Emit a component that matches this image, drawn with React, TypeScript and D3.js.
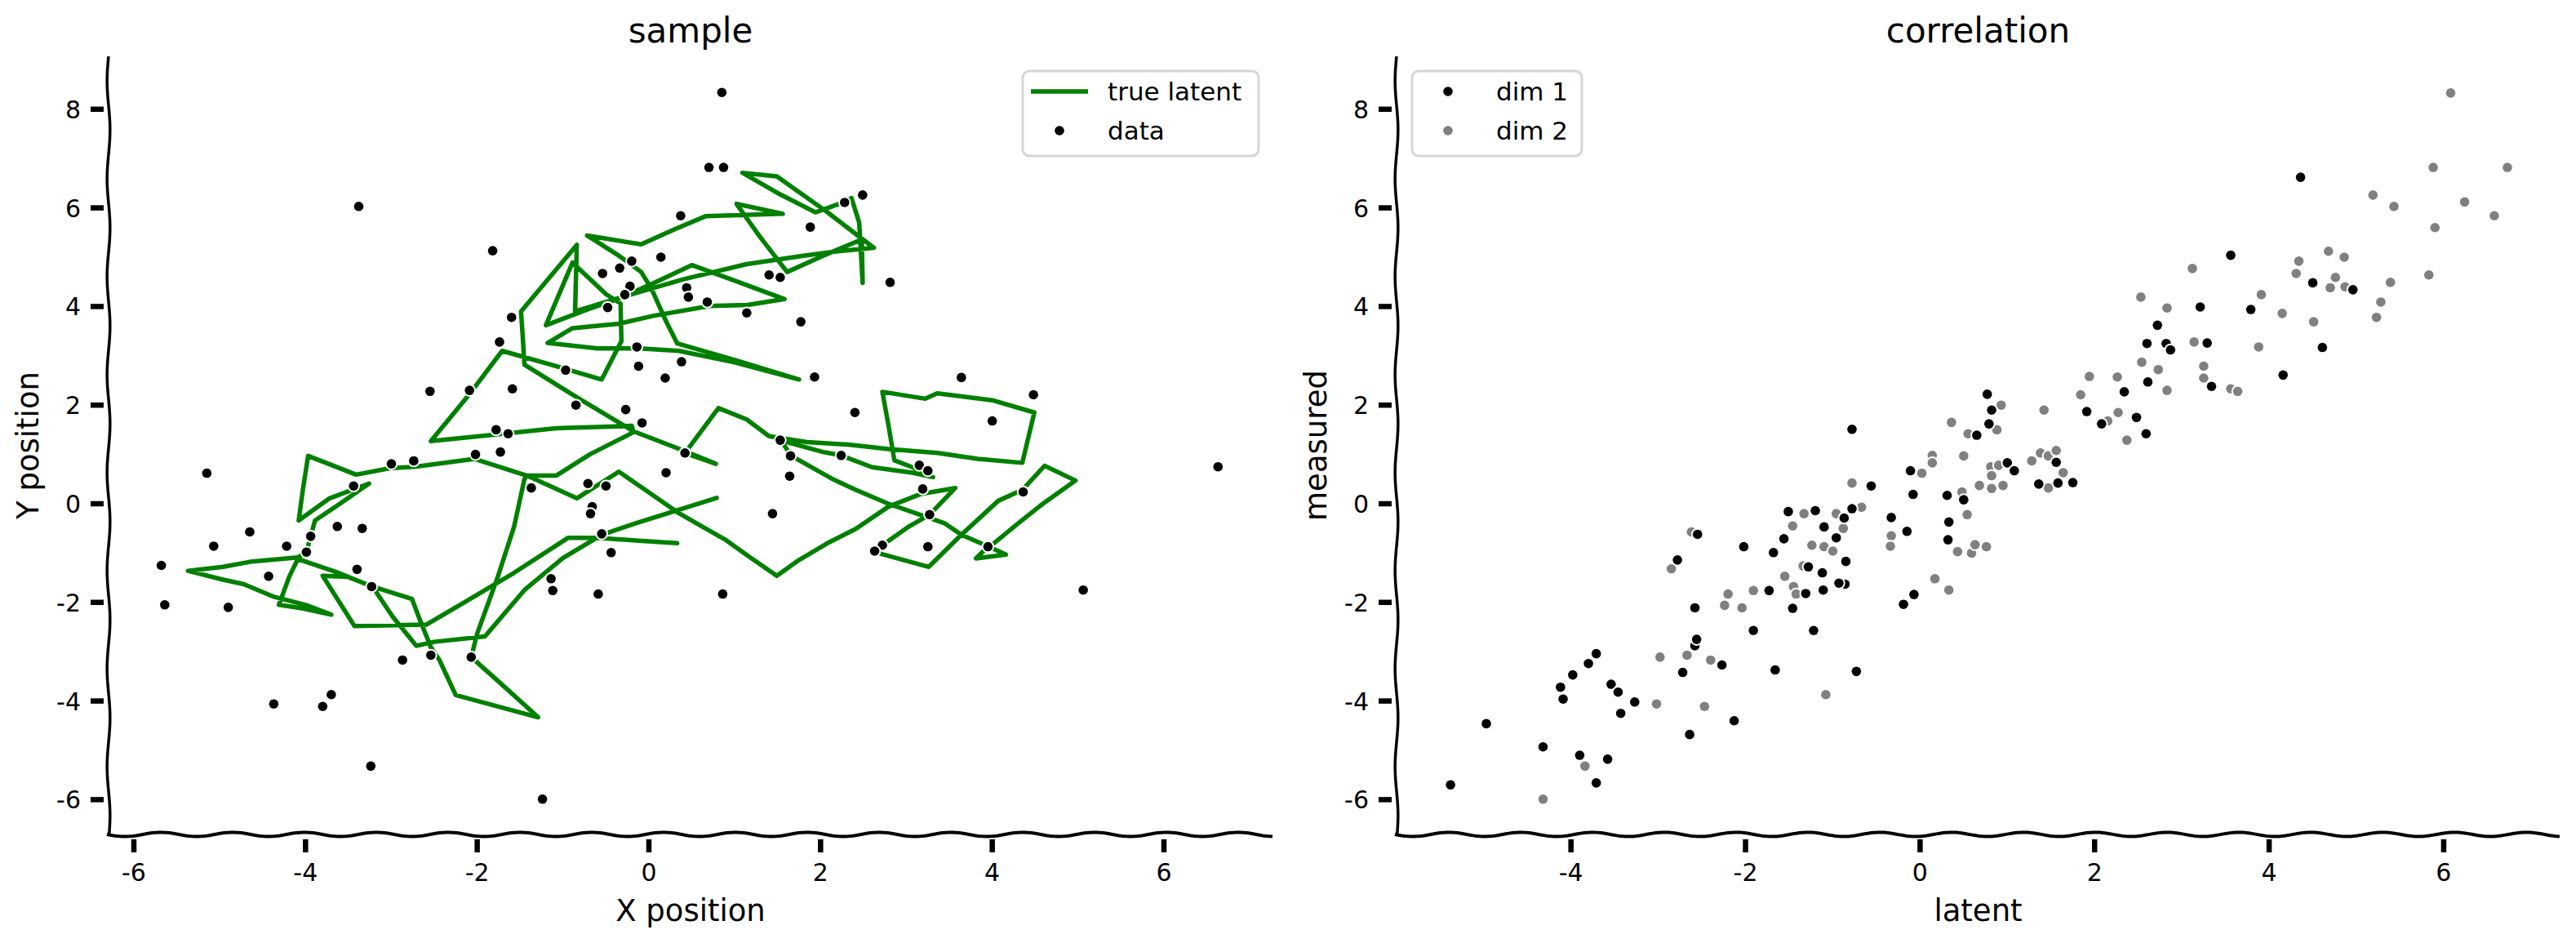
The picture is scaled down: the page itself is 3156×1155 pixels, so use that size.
import * as d3 from "d3";
import { useEffect, useRef } from "react";

const W = 3156;
const H = 1155;

// ---- left panel: noisy samples ----
const sampleX = [
  0.85, 0.7, 0.87, -3.38, 0.37, -1.82, 0.14, -0.2, -0.34, -0.54, -0.22, -0.28, 0.44, 0.46, 0.68, 1.14,
  -0.48, -1.6, -1.74, -0.14, -0.97, 0.38, -0.12, 0.19, -2.55, -2.09, -1.59, -0.85, -0.27, -0.08, -1.78,
  -1.64, 0.42, -2.02, -1.73, -3.0, -2.74, -5.15, -3.44, -1.37, -0.71, -0.5, 0.2, -0.66, -0.68, -4.65,
  -3.63, -3.34, -5.07, -4.22, -3.94, -3.99, -0.55, -0.44, -5.68, -4.43, -3.4, -3.23, -1.14, -1.12, -0.59,
  0.86, -5.64, -4.9, -2.87, -2.54, -2.07, -3.7, -4.37, -3.8, -3.24, -1.24, 2.49, 2.28, 1.88, 1.4, 1.53,
  2.81, 1.77, 1.93, 3.64, 4.48, 2.4, 4.0, 1.53, 1.65, 2.24, 1.64, 3.15, 3.25, 3.19, 6.63, 4.36, 1.44,
  3.27, 2.72, 2.63, 3.25, 3.95, 5.06,
];
const sampleY = [
  8.34, 6.82, 6.82, 6.03, 5.84, 5.13, 5.0, 4.92, 4.78, 4.67, 4.41, 4.24, 4.38, 4.19, 4.09, 3.87, 3.98,
  3.78, 3.28, 3.18, 2.71, 2.88, 2.79, 2.55, 2.28, 2.3, 2.33, 2.0, 1.91, 1.64, 1.5, 1.42, 1.03, 1.0, 1.05,
  0.81, 0.87, 0.62, 0.36, 0.32, 0.41, 0.36, 0.63, -0.06, -0.2, -0.57, -0.46, -0.5, -0.86, -0.86, -0.66,
  -0.98, -0.61, -0.99, -1.25, -1.47, -1.33, -1.68, -1.52, -1.76, -1.83, -1.83, -2.05, -2.1, -3.17, -3.07,
  -3.11, -3.87, -4.06, -4.11, -5.32, -5.99, 6.26, 6.11, 5.61, 4.64, 4.59, 4.49, 3.69, 2.57, 2.56, 2.21,
  1.85, 1.68, 1.29, 0.97, 0.98, 0.56, 0.78, 0.67, 0.3, 0.75, 0.24, -0.2, -0.22, -0.84, -0.96, -0.87,
  -0.87, -1.75,
];

// ---- left panel: true latent trajectory, vertices read along the drawn path ----
const latentX = [
  0.33, -0.12, -0.6, -0.94, -1.57, -2.2, -2.59, -3.43, -3.8, -3.51, -3.22, -2.76, -2.68, -2.54, -2.44,
  -2.25, -1.29, -1.76, -2.07, -2.0, -1.76, -1.57, -1.45, -1.42, -0.84, -0.35, 0.05, 0.33, 0.62, 0.9, 1.18,
  1.49, 1.75, 2.08, 2.41, 2.79, 3.17, 3.57, 3.27, 3.03, 2.72, 2.67, 3.26, 3.64, 4.07, 4.35, 4.61, 4.97,
  4.59, 4.3, 4.02, 3.95, 3.81, 4.16, 3.93, 3.64, 3.45, 3.17, 2.79, 2.41, 2.13, 1.66, 1.54, 2.03, 2.24, 2.6,
  3.07, 3.31, 3.07, 2.86, 2.79, 2.72, 3.22, 3.36, 4.0, 4.49, 4.35, 3.83, 3.36, 2.79, 2.32, 1.84, 1.4, 1.14,
  0.81, 0.42, 0.78, 0.4, -0.18, -0.84, -1.45, -1.47, -1.49, -0.84, -0.86, -0.3, 0.05, 0.5, 0.99, 1.58,
  1.15, 0.71, 0.05, -0.35, -0.89, -1.18, -0.6, -0.11, 0.35, 0.99, 1.75, 0.99, 0.33, 0.2, 0.03, -0.09,
  -0.35, -0.72, -0.09, 0.28, 0.66, 1.56, 1.02, 1.3, 1.61, 2.03, 2.48, 2.49, 2.45, 2.36, 2.28, 1.94, 1.5,
  1.09, 1.49, 2.05, 2.62, 2.15, 1.8, 1.14, 0.4, -0.2, -0.7, -1.2, -0.89, -0.5, -0.33, -0.32, -0.55, -1.1,
  -1.71, -2.1, -2.54, -1.81, -1.08, -0.2, -0.18, -0.69, -1.08, -1.42, -2.03, -2.73, -3.02, -3.41, -3.97,
  -4.03, -4.08, -3.72, -3.26, -3.6, -3.89, -3.94, -3.99, -4.09, -4.62, -4.96, -5.37, -4.96, -4.72, -4.38,
  -4.0, -3.7, -4.04, -4.31, -4.19, -4.09, -3.65, -3.22, -2.98, -2.71, -2.5, -1.91, -1.45, -1.0, -0.55,
  -0.16, 0.79,
];
const latentY = [
  -0.8, -0.75, -0.69, -0.69, -1.4, -2.05, -2.45, -2.48, -1.46, -1.48, -1.68, -1.93, -2.3, -2.91, -3.17,
  -3.88, -4.33, -3.59, -3.11, -2.63, -1.48, -0.46, 0.5, 0.57, 0.11, 0.65, 0.17, -0.17, -0.46, -0.74, -1.09,
  -1.46, -1.14, -0.8, -0.51, -0.06, 0.2, 0.32, -0.22, -0.46, -0.84, -1.0, -1.28, -0.63, 0.06, 0.28, 0.77,
  0.47, 0.0, -0.4, -0.8, -0.87, -1.11, -1.03, -0.85, -0.63, -0.4, -0.23, 0.0, 0.28, 0.51, 0.97, 1.28, 1.05,
  0.98, 0.74, 0.63, 0.54, 0.74, 0.88, 1.6, 2.27, 2.13, 2.24, 2.1, 1.85, 0.83, 0.91, 1.03, 1.11, 1.2, 1.25,
  1.37, 1.71, 1.94, 1.03, 0.81, 1.08, 1.47, 2.16, 2.82, 3.4, 3.9, 5.25, 3.9, 4.2, 4.47, 4.84, 4.53, 4.15,
  4.03, 4.01, 3.81, 3.65, 3.56, 3.26, 3.15, 3.15, 3.1, 2.87, 2.52, 2.92, 3.25, 3.7, 4.36, 4.7, 5.03, 5.44,
  5.26, 5.55, 5.83, 5.88, 6.08, 5.4, 4.7, 5.03, 5.36, 4.48, 5.7, 6.2, 6.12, 5.91, 6.3, 6.71, 6.64, 5.95,
  5.19, 5.11, 5.03, 4.86, 4.55, 4.25, 3.95, 3.62, 4.89, 4.25, 4.06, 3.3, 2.52, 2.8, 3.1, 2.2, 1.27, 1.4,
  1.53, 1.58, 1.45, 1.0, 0.57, 0.57, 0.91, 0.75, 0.72, 0.59, 0.97, 0.3, -0.34, 0.11, 0.41, 0.0, -0.34,
  -0.66, -0.98, -1.09, -1.17, -1.28, -1.36, -1.54, -1.63, -1.88, -2.05, -2.25, -2.12, -2.05, -1.48, -1.12,
  -1.38, -1.68, -2.3, -2.88, -2.8, -2.69, -1.75, -1.1, -0.63, -0.4, 0.12,
];

// ---- right panel: latent vs measured ----
const dim1Latent = [
  4.36, 3.56, 4.5, 4.96, 3.21, 3.79, 2.72, 2.6, 2.82, 2.87, 3.29, 4.61, 3.34, 2.61, 4.16, 2.34, 0.77, 0.82,
  1.91, 2.48, 2.08, 2.59, 0.79, 0.65, -0.78, -0.11, 1.0, 1.08, 1.56, 1.36, 1.58, 1.75, -0.08, 0.31, 0.5,
  -0.33, -0.15, 0.33, 0.32, -0.07, -0.19, -0.56, -0.78, -0.87, -1.2, -1.51, -1.1, -0.96, -1.56, -2.02,
  -1.68, -0.85, -1.28, -1.12, -0.86, -0.93, -1.31, -1.11, -1.73, -1.46, -2.58, -2.55, -2.78, -1.91, -1.22,
  -2.58, -2.56, -2.27, -2.72, -1.66, -0.73, -3.71, -3.8, -3.98, -4.12, -4.09, -3.54, -3.46, -3.27, -3.43,
  -2.13, -2.64, -4.97, -4.32, -3.9, -3.58, -3.71, -5.38,
];
const dim1Measured = [
  6.62, 5.04, 4.48, 4.34, 3.99, 3.94, 3.62, 3.25, 3.25, 3.12, 3.26, 3.17, 2.38, 2.47, 2.61, 2.27, 2.22, 1.9,
  1.87, 1.75, 1.62, 1.42, 1.62, 1.39, 1.51, 0.67, 0.83, 0.67, 0.84, 0.4, 0.42, 0.43, 0.19, 0.17, 0.08,
  -0.28, -0.56, -0.37, -0.73, -1.84, -2.04, 0.36, -0.1, -0.29, -0.14, -0.16, -0.47, -0.69, -0.71, -0.87,
  -0.99, -1.17, -1.28, -1.4, -1.63, -1.61, -1.82, -1.75, -1.76, -2.12, -2.11, -0.62, -1.14, -2.57, -2.57,
  -2.88, -2.75, -3.27, -3.42, -3.37, -3.4, -3.04, -3.24, -3.47, -3.72, -3.96, -3.66, -3.82, -4.02, -4.25,
  -4.4, -4.68, -4.46, -4.93, -5.1, -5.18, -5.66, -5.7,
];
const dim2Latent = [
  6.08, 5.88, 6.73, 5.19, 5.43, 6.24, 6.58, 5.9, 4.68, 4.86, 4.34, 3.12, 4.31, 4.76, 4.7, 4.87, 5.39, 5.83,
  3.91, 2.53, 2.83, 4.15, 4.51, 5.28, 5.23, 3.14, 3.88, 2.54, 2.73, 3.25, 3.25, 1.94, 2.26, 2.83, 3.56, 3.64,
  1.84, 0.93, 1.42, 2.27, 2.15, 2.37, 0.36, 0.55, 0.88, 0.14, 0.14, 0.5, 0.02, 0.81, 0.9, 0.82, 0.68, 0.82,
  0.95, 1.28, 1.38, 1.47, 1.56, 1.64, 1.47, 0.48, -0.33, -0.34, 0.54, 0.43, 0.59, 0.63, 0.76, 0.17, 0.33,
  -0.78, -0.67, -0.88, -0.96, -1.33, -1.46, -1.24, -1.1, -1.0, -1.34, -1.55, -1.45, -1.42, -1.91, -2.2,
  -2.24, -2.04, -2.62, -2.85, -2.67, -2.98, -2.4, -1.08, -3.02, -2.47, -3.84, -4.32,
];
const dim2Measured = [
  8.33, 6.82, 6.82, 6.26, 6.03, 6.12, 5.84, 5.6, 5.12, 5.0, 4.92, 4.77, 4.67, 4.59, 4.38, 4.4, 4.49, 4.64,
  4.24, 4.19, 3.97, 3.86, 3.69, 4.09, 3.78, 3.28, 3.18, 2.87, 2.72, 2.79, 2.55, 2.58, 2.57, 2.3, 2.33, 2.28,
  2.21, 2.0, 1.9, 1.85, 1.68, 1.29, 1.65, 1.42, 1.5, 0.98, 0.83, 0.97, 0.62, 0.75, 0.78, 0.57, 0.37, 0.31,
  0.37, 0.87, 1.03, 0.97, 1.08, 0.63, 0.32, 0.24, -0.65, -0.86, -0.22, -0.97, -1.0, -0.83, -0.87, -1.52,
  -1.75, 0.42, -0.07, -0.5, -0.2, -0.2, -0.45, -0.84, -0.87, -0.96, -1.26, -1.47, -1.68, -1.83, -1.76,
  -1.83, -2.06, -2.11, -0.57, -1.32, -3.07, -3.11, -3.17, -3.87, -4.06, -4.11, -5.32, -5.99,
];

const yTicks = [-6, -4, -2, 0, 2, 4, 6, 8];
const leftXTicks = [-6, -4, -2, 0, 2, 4, 6];
const rightXTicks = [-4, -2, 0, 2, 4, 6];

const FONT = "'DejaVu Sans', sans-serif";

// hand-drawn looking straight line (xkcd-style spine)
function wavy(x0: number, y0: number, x1: number, y1: number, amp: number, wl: number) {
  const len = Math.hypot(x1 - x0, y1 - y0);
  const n = Math.ceil(len / 4);
  const ux = (x1 - x0) / len;
  const uy = (y1 - y0) / len;
  const pts: [number, number][] = [];
  for (let i = 0; i <= n; i++) {
    const t = (i / n) * len;
    const o = amp * Math.sin((t / wl) * Math.PI * 2);
    pts.push([x0 + ux * t - uy * o, y0 + uy * t + ux * o]);
  }
  return d3.line()(pts) as string;
}

export default function App() {
  const ref = useRef<SVGSVGElement>(null);

  useEffect(() => {
    const svg = d3.select(ref.current);
    svg.selectAll("*").remove();

    const y = d3.scaleLinear().domain([-6, 8]).range([979.4, 133.8]);
    const xL = d3.scaleLinear().domain([-6, 6]).range([164, 1426]);
    const xR = d3.scaleLinear().domain([-4, 6]).range([1924.7, 2993.9]);

    const top = 69;
    const bottom = 1022;

    function frame(
      spineX: number,
      endX: number,
      x: d3.ScaleLinear<number, number>,
      xt: number[],
      title: string,
      xlabel: string,
      ylabel: string
    ) {
      const g = svg.append("g");
      g.append("path")
        .attr("d", wavy(spineX, top, spineX, bottom, 1.8, 120))
        .attr("fill", "none")
        .attr("stroke", "#000")
        .attr("stroke-width", 3.5);
      g.append("path")
        .attr("d", wavy(spineX - 2, bottom, endX, bottom, 2.6, 88))
        .attr("fill", "none")
        .attr("stroke", "#000")
        .attr("stroke-width", 4);

      g.selectAll(".yt")
        .data(yTicks)
        .enter()
        .append("line")
        .attr("x1", spineX - 22)
        .attr("x2", spineX - 6)
        .attr("y1", (d) => y(d))
        .attr("y2", (d) => y(d))
        .attr("stroke", "#000")
        .attr("stroke-width", 6.5);
      g.selectAll(".ytl")
        .data(yTicks)
        .enter()
        .append("text")
        .attr("x", spineX - 34)
        .attr("y", (d) => y(d) + 11)
        .attr("text-anchor", "end")
        .attr("font-family", FONT)
        .attr("font-size", 30)
        .text((d) => String(d));

      g.selectAll(".xt")
        .data(xt)
        .enter()
        .append("line")
        .attr("x1", (d) => x(d))
        .attr("x2", (d) => x(d))
        .attr("y1", bottom + 6)
        .attr("y2", bottom + 22)
        .attr("stroke", "#000")
        .attr("stroke-width", 6.5);
      g.selectAll(".xtl")
        .data(xt)
        .enter()
        .append("text")
        .attr("x", (d) => x(d))
        .attr("y", bottom + 57)
        .attr("text-anchor", "middle")
        .attr("font-family", FONT)
        .attr("font-size", 30)
        .text((d) => String(d));

      const cx = (spineX + endX) / 2;
      g.append("text")
        .attr("x", cx)
        .attr("y", 52)
        .attr("text-anchor", "middle")
        .attr("font-family", FONT)
        .attr("font-size", 42)
        .text(title);
      g.append("text")
        .attr("x", cx)
        .attr("y", 1128)
        .attr("text-anchor", "middle")
        .attr("font-family", FONT)
        .attr("font-size", 37)
        .text(xlabel);
      g.append("text")
        .attr("transform", `translate(${spineX - 86},${(top + bottom) / 2}) rotate(-90)`)
        .attr("text-anchor", "middle")
        .attr("font-family", FONT)
        .attr("font-size", 37)
        .text(ylabel);
    }

    frame(133, 1559, xL, leftXTicks, "sample", "X position", "Y position");
    frame(1711, 3136, xR, rightXTicks, "correlation", "latent", "measured");

    // left panel: latent trajectory
    const latent = latentX.map((v, i) => [v, latentY[i]] as [number, number]);
    const line = d3
      .line<[number, number]>()
      .x((d) => xL(d[0]))
      .y((d) => y(d[1]));
    svg
      .append("path")
      .attr("d", line(latent))
      .attr("fill", "none")
      .attr("stroke", "#008000")
      .attr("stroke-width", 5.5)
      .attr("stroke-linejoin", "round")
      .attr("stroke-linecap", "round");

    const dot = (
      gx: d3.ScaleLinear<number, number>,
      xs: number[],
      ys: number[],
      color: string
    ) => {
      svg
        .append("g")
        .selectAll("circle")
        .data(xs.map((v, i) => [v, ys[i]]))
        .enter()
        .append("circle")
        .attr("cx", (d) => gx(d[0]))
        .attr("cy", (d) => y(d[1]))
        .attr("r", 5.8)
        .attr("fill", color)
        .attr("stroke", "#fff")
        .attr("stroke-width", 4)
        .attr("paint-order", "stroke");
    };
    dot(xL, sampleX, sampleY, "#000");
    dot(xR, dim2Latent, dim2Measured, "#808080");
    dot(xR, dim1Latent, dim1Measured, "#000");

    // legends
    const legend = (
      x0: number,
      x1: number,
      rows: { label: string; kind: "line" | "dot"; color: string }[],
      markX: number,
      textX: number
    ) => {
      const g = svg.append("g");
      g.append("rect")
        .attr("x", x0)
        .attr("y", 87)
        .attr("width", x1 - x0)
        .attr("height", 104)
        .attr("rx", 8)
        .attr("fill", "#fff")
        .attr("fill-opacity", 0.8)
        .attr("stroke", "#d6d6d6")
        .attr("stroke-width", 3);
      rows.forEach((r, i) => {
        const cy = 112 + i * 48;
        if (r.kind === "line") {
          g.append("line")
            .attr("x1", markX - 35)
            .attr("x2", markX + 35)
            .attr("y1", cy)
            .attr("y2", cy)
            .attr("stroke", r.color)
            .attr("stroke-width", 5.5);
        } else {
          g.append("circle")
            .attr("cx", markX)
            .attr("cy", cy)
            .attr("r", 5.8)
            .attr("fill", r.color)
            .attr("stroke", "#fff")
            .attr("stroke-width", 4)
            .attr("paint-order", "stroke");
        }
        g.append("text")
          .attr("x", textX)
          .attr("y", cy + 11)
          .attr("font-family", FONT)
          .attr("font-size", 31)
          .text(r.label);
      });
    };
    legend(
      1253,
      1542,
      [
        { label: "true latent", kind: "line", color: "#008000" },
        { label: "data", kind: "dot", color: "#000" },
      ],
      1298,
      1357
    );
    legend(
      1730,
      1938,
      [
        { label: "dim 1", kind: "dot", color: "#000" },
        { label: "dim 2", kind: "dot", color: "#808080" },
      ],
      1774,
      1833
    );
  }, []);

  return (
    <svg
      ref={ref}
      width={W}
      height={H}
      style={{ position: "absolute", left: 0, top: 0, background: "#fff" }}
    />
  );
}
